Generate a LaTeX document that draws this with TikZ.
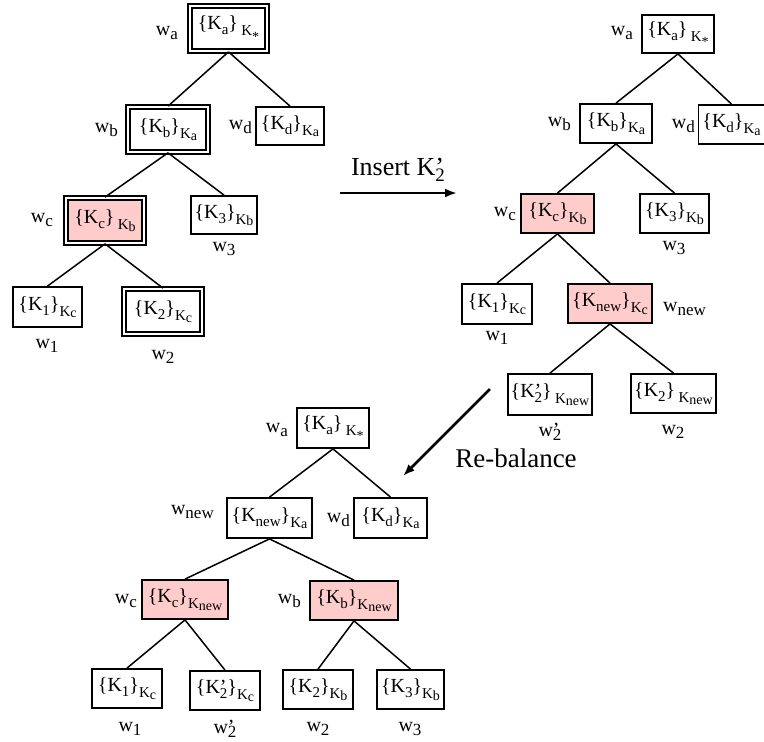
\documentclass[tikz,border=0pt]{standalone}
\usepackage{fontspec}
\setmainfont{Liberation Serif}
\usepackage{xcolor}
\usetikzlibrary{arrows.meta}

\definecolor{keypink}{RGB}{255,204,204}
% lowered indices, sized like the drawing
\newcommand{\lo}[1]{\raisebox{-5pt}{\fontsize{15}{15}\selectfont #1}}
\newcommand{\kk}[1]{K\lo{#1}}
\newcommand{\ksub}[1]{\raisebox{-6pt}{\fontsize{15}{15}\selectfont K\raisebox{-1.5pt}{\fontsize{14}{14}\selectfont #1}}}
\newcommand{\kstar}{\ksub{\raisebox{-4pt}{*}}}
\newcommand{\kprime}{K\rlap{'}\lo{2}}
\newcommand{\enc}[2]{\{#1\}#2}
\newcommand{\wn}[1]{w\raisebox{-4pt}{\fontsize{17}{17}\selectfont #1}}
\newcommand{\wprime}{w\rlap{'}\raisebox{-4pt}{\fontsize{17}{17}\selectfont 2}}

\begin{document}
\begin{tikzpicture}[x=1pt, y=-1pt,
    keybox/.style={
        draw, line width=1.8pt, inner sep=1pt,
        minimum width=68pt, minimum height=38pt,
        font=\fontsize{20}{24}\selectfont
    },
    keydbl/.style={
        keybox, line width=1.7pt, double, double distance=2.8pt,
        minimum width=78pt, minimum height=45pt
    },
    keyhot/.style={keybox, fill=keypink},
    wlabel/.style={font=\fontsize{20}{24}\selectfont, inner sep=1pt},
    edge/.style={line width=1.5pt},
    arr/.style={-{Latex[length=12pt,width=9pt]}, line width=2.6pt},
    steplabel/.style={font=\fontsize{26}{30}\selectfont, inner sep=1pt}
]
    \useasboundingbox (0,0) rectangle (764,742);

    % Tree before the insertion
    \node[keydbl, minimum width=77pt] (a1) at (228.5,28.5) {\enc{\kk{a}}{\,\kstar}};
    \node[keydbl, minimum width=80pt] (b1) at (168,129.5) {\enc{\kk{b}}{\ksub{a}}};
    \node[keybox] (d1) at (290,126) {\enc{\kk{d}}{\ksub{a}}};
    \node[keydbl, fill=keypink] (c1) at (105,220.5) {\enc{\kk{c}}{\,\ksub{b}}};
    \node[keybox, minimum width=66pt] (e1) at (224,215) {\enc{\kk{3}}{\ksub{b}}};
    \node[keybox, minimum width=69pt, minimum height=40pt] (f1) at (47.5,307) {\enc{\kk{1}}{\ksub{c}}};
    \node[keydbl] (g1) at (163,311.5) {\enc{\kk{2}}{\ksub{c}}};

    \node[wlabel, anchor=east] (la1) at (179,33) {\wn{a}};
    \node[wlabel, anchor=east] (lb1) at (119,130) {\wn{b}};
    \node[wlabel, anchor=east] (ld1) at (253,127) {\wn{d}};
    \node[wlabel, anchor=east] (lc1) at (54,220) {\wn{c}};
    \node[wlabel] (le1) at (224,249) {\wn{3}};
    \node[wlabel] (lf1) at (47,346) {\wn{1}};
    \node[wlabel] (lg1) at (163,357) {\wn{2}};

    \draw[edge] (a1.south) -- (b1.north);
    \draw[edge] (a1.south) -- (d1.north);
    \draw[edge] (b1.south) -- (c1.north);
    \draw[edge] (b1.south) -- (e1.north);
    \draw[edge] (c1.south) -- (f1.north);
    \draw[edge] (c1.south) -- (g1.north);

    % Insert step
    \coordinate (ins1) at (340,193);
    \coordinate (ins2) at (457,193);
    \draw[arr] (ins1) -- (ins2);
    \node[steplabel] (inslabel) at (398,170)
        {Insert K\rlap{'}\raisebox{-6pt}{\fontsize{19}{19}\selectfont 2}};

    % Tree after the insertion
    \node[keybox, minimum width=72pt] (a2) at (678,34) {\enc{\kk{a}}{\,\kstar}};
    \node[keybox, minimum width=72pt, minimum height=39pt] (b2) at (616,123.5) {\enc{\kk{b}}{\ksub{a}}};
    \node[keybox, minimum width=66pt, minimum height=39pt] (d2) at (731.5,124.5) {\enc{\kk{d}}{\ksub{a}}};
    \node[keyhot, minimum width=73pt, minimum height=39pt] (c2) at (557.5,213.5) {\enc{\kk{c}}{\ksub{b}}};
    \node[keybox, minimum width=69pt, minimum height=39pt] (e2) at (674.5,213.5) {\enc{\kk{3}}{\ksub{b}}};
    \node[keybox, minimum width=70pt, minimum height=40pt] (f2) at (497,304) {\enc{\kk{1}}{\ksub{c}}};
    \node[keyhot, minimum width=84pt, minimum height=39pt] (n2) at (610,303.5) {\enc{\kk{new}}{\ksub{c}}};
    \node[keybox, minimum width=84pt, minimum height=41pt] (p2) at (550,394.5) {\enc{\kprime}{\,\ksub{new}}};
    \node[keybox, minimum width=85pt, minimum height=39pt] (g2) at (673.5,393.5) {\enc{\kk{2}}{\,\ksub{new}}};

    \node[wlabel, anchor=east] (la2) at (634,33) {\wn{a}};
    \node[wlabel, anchor=east] (lb2) at (572,124) {\wn{b}};
    \node[wlabel, anchor=east] (ld2) at (696,126) {\wn{d}};
    \node[wlabel, anchor=east] (lc2) at (517,214) {\wn{c}};
    \node[wlabel] (le2) at (674,248) {\wn{3}};
    \node[wlabel] (lf2) at (497,338) {\wn{1}};
    \node[wlabel, anchor=west] (ln2) at (662,309) {\wn{new}};
    \node[wlabel] (lp2) at (550,432) {\wprime};
    \node[wlabel] (lg2) at (673,432) {\wn{2}};

    \draw[edge] (a2.south) -- (b2.north);
    \draw[edge] (a2.south) -- (d2.north);
    \draw[edge] (b2.south) -- (c2.north);
    \draw[edge] (b2.south) -- (e2.north);
    \draw[edge] (c2.south) -- (f2.north);
    \draw[edge] (c2.south) -- (n2.north);
    \draw[edge] (n2.south) -- (p2.north);
    \draw[edge] (n2.south) -- (g2.north);

    % Re-balance step
    \coordinate (rb1) at (490,389);
    \coordinate (rb2) at (403,476);
    \draw[arr] (rb1) -- (rb2);
    \node[steplabel, font=\fontsize{27}{31}\selectfont] (rblabel) at (516,458) {Re-balance};

    % Tree after re-balancing
    \node[keybox, minimum width=72pt, minimum height=40pt] (a3) at (333,428) {\enc{\kk{a}}{\,\kstar}};
    \node[keybox, minimum width=85pt, minimum height=40pt] (n3) at (269.5,518) {\enc{\kk{new}}{\ksub{a}}};
    \node[keybox, minimum width=73pt, minimum height=40pt] (d3) at (390.5,518) {\enc{\kk{d}}{\ksub{a}}};
    \node[keyhot, minimum width=86pt, minimum height=39pt] (c3) at (185,599.5) {\enc{\kk{c}}{\ksub{new}}};
    \node[keyhot, minimum width=88pt, minimum height=39pt] (b3) at (354,600.5) {\enc{\kk{b}}{\ksub{new}}};
    \node[keybox, minimum width=70pt, minimum height=39pt] (f3) at (127,688.5) {\enc{\kk{1}}{\ksub{c}}};
    \node[keybox, minimum width=70pt, minimum height=39pt] (p3) at (225,690.5) {\enc{\kprime}{\ksub{c}}};
    \node[keybox, minimum width=70pt, minimum height=39pt] (g3) at (318,689.5) {\enc{\kk{2}}{\ksub{b}}};
    \node[keybox, minimum width=67pt, minimum height=39pt] (e3) at (410.5,689.5) {\enc{\kk{3}}{\ksub{b}}};

    \node[wlabel, anchor=east] (la3) at (289,430) {\wn{a}};
    \node[wlabel, anchor=east] (ln3) at (215,512) {\wn{new}};
    \node[wlabel, anchor=east] (ld3) at (351,520) {\wn{d}};
    \node[wlabel, anchor=east] (lc3) at (138,601) {\wn{c}};
    \node[wlabel, anchor=east] (lb3) at (302,601) {\wn{b}};
    \node[wlabel] (lf3) at (130,729) {\wn{1}};
    \node[wlabel] (lp3) at (225,729) {\wprime};
    \node[wlabel] (lg3) at (318,729) {\wn{2}};
    \node[wlabel] (le3) at (410,729) {\wn{3}};

    \draw[edge] (a3.south) -- (n3.north);
    \draw[edge] (a3.south) -- (d3.north);
    \draw[edge] (n3.south) -- (c3.north);
    \draw[edge] (n3.south) -- (b3.north);
    \draw[edge] (c3.south) -- (f3.north);
    \draw[edge] (c3.south) -- (p3.north);
    \draw[edge] (b3.south) -- (g3.north);
    \draw[edge] (b3.south) -- (e3.north);
\end{tikzpicture}
\end{document}
